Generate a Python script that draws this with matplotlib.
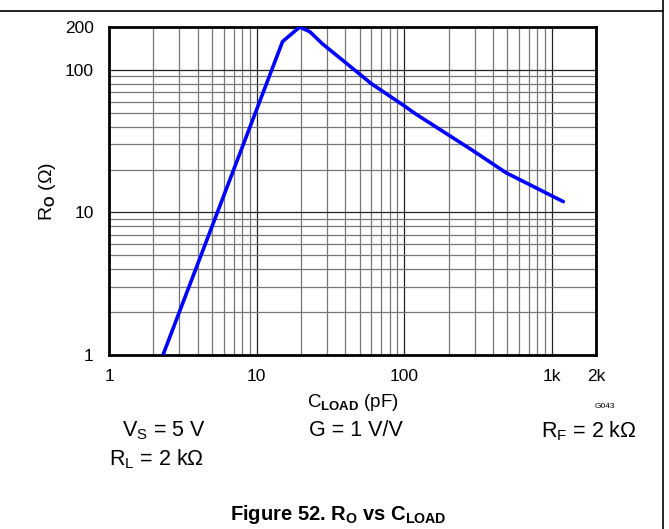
import numpy as np
import matplotlib
matplotlib.use("Agg")
import matplotlib.pyplot as plt
from matplotlib.lines import Line2D
from matplotlib.ticker import FixedLocator, NullFormatter, LogLocator

plt.rcParams['font.family'] = ['Liberation Sans', 'DejaVu Sans']
plt.rcParams['mathtext.fontset'] = 'custom'
plt.rcParams['mathtext.rm'] = 'Liberation Sans'
plt.rcParams['mathtext.it'] = 'Liberation Sans'
plt.rcParams['mathtext.bf'] = 'Liberation Sans:bold'

# ---- data ----
c_load = [2.32, 15, 19.6, 23, 28, 37.5, 60, 100, 120, 290, 490, 1200]
r_out = [1.0, 158, 200, 185, 152, 119, 80, 56, 49, 27.3, 19.0, 11.9]

x_ticks = [1, 10, 100, 1000, 2000]
x_labels = ["1", "10", "100", "1k", "2k"]
y_ticks = [1, 10, 100, 200]
y_labels = ["1", "10", "100", "200"]

fig = plt.figure(figsize=(6.69, 5.29), dpi=100)
ax = fig.add_axes([0.163, 0.329, 0.728, 0.620])

ax.plot(c_load, r_out, color="#0000ff", lw=2.6, solid_capstyle="round",
        solid_joinstyle="round", zorder=3)

ax.set_xscale("log")
ax.set_yscale("log")
ax.set_xlim(1, 2000)
ax.set_ylim(1, 200)

ax.xaxis.set_major_locator(FixedLocator(x_ticks))
ax.set_xticklabels(x_labels)
ax.yaxis.set_major_locator(FixedLocator(y_ticks))
ax.set_yticklabels(y_labels)
ax.xaxis.set_minor_locator(LogLocator(base=10, subs=np.arange(2, 10)))
ax.yaxis.set_minor_locator(LogLocator(base=10, subs=np.arange(2, 10)))
ax.xaxis.set_minor_formatter(NullFormatter())
ax.yaxis.set_minor_formatter(NullFormatter())

ax.grid(which="major", color="#222222", lw=0.9)
ax.grid(which="minor", color="#777777", lw=0.9)
ax.tick_params(which="both", length=0, labelsize=12.5)
ax.tick_params(axis="x", pad=10)
ax.tick_params(axis="y", pad=11)
for s in ax.spines.values():
    s.set_linewidth(2.0)
    s.set_color("black")

ax.set_xlabel(r"C$_{\mathbf{LOAD}}$ (pF)", fontsize=13.5, labelpad=6)
ax.set_ylabel(r"R$_{\mathbf{O}}$ ($\Omega$)", fontsize=14, labelpad=5)

# annotations below the plot
fig.text(605 / 669, 1 - 407 / 529, "G043", fontsize=6, ha="center", va="center")
fig.text(164 / 669, 1 - 431 / 529, r"V$_\mathrm{S}$ = 5 V", fontsize=15.5, ha="center", va="center")
fig.text(356 / 669, 1 - 431 / 529, "G = 1 V/V", fontsize=15.5, ha="center", va="center")
fig.text(589 / 669, 1 - 431 / 529, r"R$_\mathrm{F}$ = 2 k$\Omega$", fontsize=15.5, ha="center", va="center")
fig.text(157 / 669, 1 - 459 / 529, r"R$_\mathrm{L}$ = 2 k$\Omega$", fontsize=15.5, ha="center", va="center")
fig.text(338 / 669, 1 - 514 / 529, r"Figure 52. R$_\mathbf{O}$ vs C$_\mathbf{LOAD}$",
         fontsize=14.5, fontweight="bold", ha="center", va="center")

# frame lines of the figure
fig.add_artist(Line2D([0, 663 / 669], [1 - 11 / 529, 1 - 11 / 529], color="black", lw=1.2))
fig.add_artist(Line2D([663 / 669, 663 / 669], [0, 1], color="black", lw=1.2))

fig.savefig("out.png", dpi=100)
